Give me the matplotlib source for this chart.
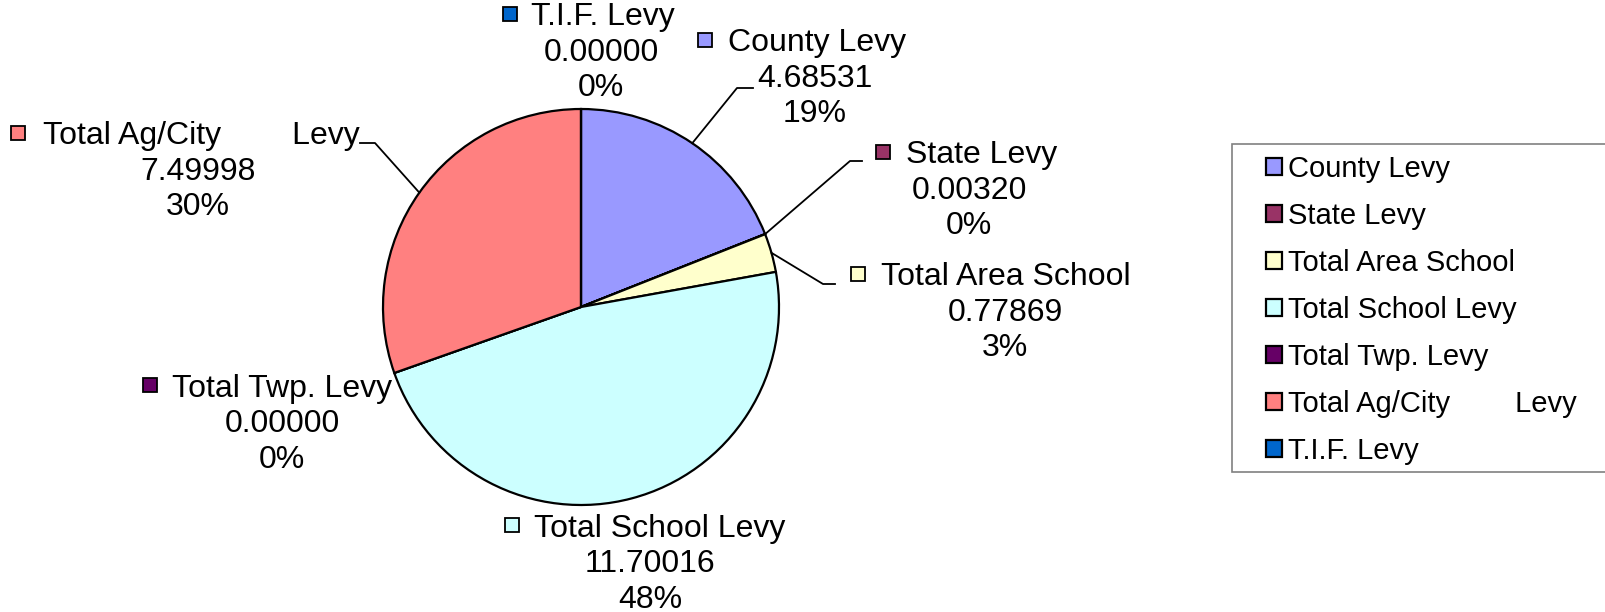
import matplotlib
matplotlib.use("Agg")
import matplotlib.pyplot as plt
from matplotlib.patches import Rectangle
import numpy as np

categories = ["County Levy", "State Levy", "Total Area School", "Total School Levy",
              "Total Twp. Levy", "Total Ag/City        Levy", "T.I.F. Levy"]
values = [4.68531, 0.00320, 0.77869, 11.70016, 0.0, 7.49998, 0.0]
value_labels = ["4.68531", "0.00320", "0.77869", "11.70016", "0.00000", "7.49998", "0.00000"]
pct_labels = ["19%", "0%", "3%", "48%", "0%", "30%", "0%"]
colors = ["#9999FF", "#993366", "#FFFFCC", "#CCFFFF", "#660066", "#FF8080", "#0066CC"]

plt.rcParams["font.family"] = ["Liberation Sans", "DejaVu Sans"]

W, H = 1606, 612
fig = plt.figure(figsize=(W / 100, H / 100), dpi=100)
ax = fig.add_axes([0, 0, 1, 1])

cx, cy, r = 581, 307, 198
wedges, _ = ax.pie(values, colors=colors, startangle=90, counterclock=False,
                   center=(cx, H - cy), radius=r,
                   wedgeprops=dict(edgecolor="black", linewidth=1.6))
ax.set_xlim(0, W)
ax.set_ylim(0, H)
ax.set_aspect("equal")
ax.axis("off")

# label layout (pixel coords, y down): square x, name left x, block centre x, first-line centre y
label_layout = [
    (705, 728, 815, 40),
    (883, 906, 969, 152),
    (858, 881, 1005, 274),
    (512, 534, 650, 525),
    (150, 172, 282, 385),
    (18, 43, 198, 133),
    (510, 531, 601, 14),
]
line_gap = 35.5
fs = 23
for i, (sx, nx, bx, ly) in enumerate(label_layout):
    ax.plot([sx], [H - ly], marker="s", markersize=9.5, markerfacecolor=colors[i],
            markeredgecolor="black", markeredgewidth=1.3, linestyle="none", zorder=5)
    ax.text(nx, H - ly, categories[i], fontsize=fs, ha="left", va="center_baseline")
    ax.text(bx, H - ly - line_gap, value_labels[i], fontsize=fs, ha="center", va="center_baseline")
    ax.text(bx, H - ly - 2 * line_gap, pct_labels[i], fontsize=fs, ha="center", va="center_baseline")

# leader lines: from rim at wedge mid-angle to elbow and end
leaders = {0: [(737, 88), (753, 88)],
           1: [(850, 161), (862, 161)],
           2: [(823, 284), (835, 284)],
           5: [(375, 143), (360, 143)]}
for i, pts in leaders.items():
    w = wedges[i]
    mid = np.deg2rad((w.theta1 + w.theta2) / 2)
    x0 = cx + r * np.cos(mid)
    y0 = (H - cy) + r * np.sin(mid)
    xs = [x0] + [p[0] for p in pts]
    ys = [y0] + [H - p[1] for p in pts]
    ax.plot(xs, ys, color="black", linewidth=1.3, zorder=4)

# legend frame
ax.add_patch(Rectangle((1232, H - 472), 400, 328, facecolor="white",
                       edgecolor="#808080", linewidth=1.2, clip_on=True, zorder=1))
leg = ax.legend(wedges, categories, loc="upper left",
                bbox_to_anchor=(1266, H - 155), bbox_transform=ax.transData,
                frameon=False, fontsize=21, borderpad=0, borderaxespad=0,
                handlelength=0.55, handleheight=0.55, handletextpad=0.2,
                labelspacing=0.65)
leg.set_zorder(6)

fig.savefig("out.png", dpi=100)
